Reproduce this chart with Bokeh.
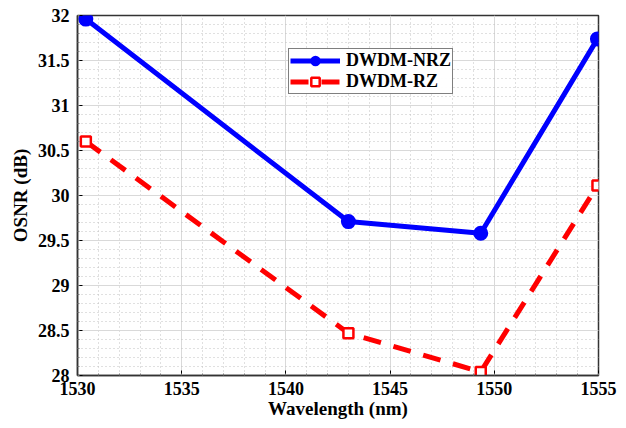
from bokeh.plotting import figure
from bokeh.models import Range1d, Legend, LegendItem, FixedTicker
from bokeh.embed import file_html
from bokeh.resources import INLINE

wavelength = [1530.4, 1543.0, 1549.35, 1554.95]
osnr_nrz = [31.96, 29.71, 29.58, 31.74]
osnr_rz = [30.60, 28.47, 28.04, 30.11]
x_ticks = [1530, 1535, 1540, 1545, 1550, 1555]
y_ticks = [28, 28.5, 29, 29.5, 30, 30.5, 31, 31.5, 32]

FONT = "Liberation Serif"

p = figure(width=626, height=428, output_backend="svg", toolbar_location=None,
           x_range=Range1d(1530, 1555), y_range=Range1d(28, 32),
           min_border_left=77, min_border_right=28, min_border_top=15, min_border_bottom=53)
p.background_fill_color = "white"
p.border_fill_color = "white"
p.outline_line_color = "#333333"
p.outline_line_width = 1.5

x_minor = [1530 + i for i in range(26)]
y_minor = [round(28 + 0.1 * i, 1) for i in range(41)]

for ax in (p.xaxis[0], p.yaxis[0]):
    ax.major_tick_in = 5
    ax.major_tick_out = 0
    ax.minor_tick_in = 2
    ax.minor_tick_out = 0
    ax.minor_tick_line_color = "#777777"
    ax.axis_line_color = "#333333"
    ax.axis_line_width = 1.5
    ax.major_label_text_font = FONT
    ax.major_label_text_font_style = "bold"
    ax.major_label_text_font_size = "18px"
    ax.major_label_text_color = "black"
    ax.axis_label_text_font = FONT
    ax.axis_label_text_font_style = "bold"
    ax.axis_label_text_font_size = "19px"
    ax.axis_label_text_color = "black"

p.xaxis[0].ticker = FixedTicker(ticks=x_ticks, minor_ticks=x_minor)
p.yaxis[0].ticker = FixedTicker(ticks=y_ticks, minor_ticks=y_minor)
p.xaxis[0].axis_label = "Wavelength (nm)"
p.yaxis[0].axis_label = "OSNR (dB)"
p.xaxis[0].axis_label_standoff = 0
p.yaxis[0].axis_label_standoff = 4
p.xaxis[0].major_label_standoff = 6
p.yaxis[0].major_label_standoff = 8

for g in (p.xgrid[0], p.ygrid[0]):
    g.grid_line_color = "#d9d9d9"
    g.grid_line_width = 1
    g.minor_grid_line_color = "#c0c0c0"
    g.minor_grid_line_dash = "1 3"
    g.minor_grid_line_width = 1

l1 = p.line(wavelength, osnr_nrz, line_color="#0000ff", line_width=5)
m1 = p.scatter(wavelength, osnr_nrz, marker="circle", size=13, fill_color="#0000ff",
               line_color="#0000ff", line_width=2)
l2 = p.line(wavelength, osnr_rz, line_color="#ff0000", line_width=5, line_dash="18 13")
m2 = p.scatter(wavelength, osnr_rz, marker="square", size=10, fill_color="white",
               line_color="#ff0000", line_width=2.5)

legend = Legend(items=[LegendItem(label="DWDM-NRZ", renderers=[l1, m1]),
                       LegendItem(label="DWDM-RZ", renderers=[l2, m2])],
                location=(211, 281))
legend.label_text_font = FONT
legend.label_text_font_style = "bold"
legend.label_text_font_size = "18px"
legend.label_text_color = "black"
legend.border_line_color = "black"
legend.border_line_width = 1.5
legend.glyph_width = 50
legend.glyph_height = 21
legend.spacing = 0
legend.padding = 1
legend.margin = 0
legend.label_standoff = 6
legend.label_height = 16
p.add_layout(legend, "center")

open("out.html", "w").write(file_html(p, INLINE))
